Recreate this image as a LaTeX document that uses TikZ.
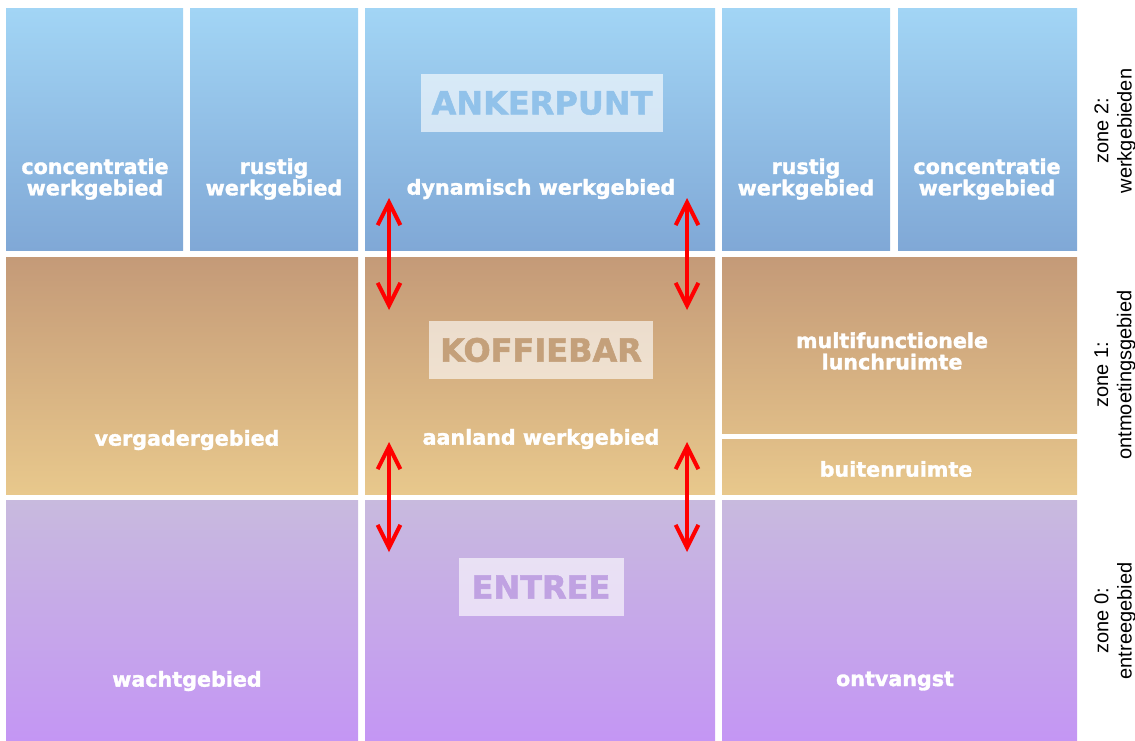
\documentclass[tikz,border=0pt]{standalone}
\usepackage{fontspec}
\setmainfont{Liberation Sans}
\newfontfamily\vlakfont{DejaVu Sans}[BoldFeatures={FakeBold=1.6}]
\usetikzlibrary{arrows.meta}
\definecolor{blauwboven}{RGB}{162,213,245}
\definecolor{blauwonder}{RGB}{128,168,214}
\definecolor{bruinboven}{RGB}{196,154,120}
\definecolor{bruinmidden}{RGB}{223,188,135}
\definecolor{bruinonder}{RGB}{232,200,140}
\definecolor{paarsboven}{RGB}{200,186,222}
\definecolor{paarsonder}{RGB}{196,150,244}
\definecolor{ankerkleur}{RGB}{145,194,234}
\definecolor{koffiekleur}{RGB}{196,160,122}
\definecolor{entreekleur}{RGB}{192,162,226}

\begin{document}
\begin{tikzpicture}[x=0.75pt,y=0.75pt,yscale=-1,xscale=1,
  vlak/.style={anchor=north west,inner sep=0pt,outer sep=0pt},
  blauw/.style={vlak,top color=blauwboven,bottom color=blauwonder},
  bruin/.style={vlak,top color=bruinboven,bottom color=bruinonder},
  paars/.style={vlak,top color=paarsboven,bottom color=paarsonder},
  tekst/.style={text=white,font=\vlakfont\bfseries\fontsize{15.5}{16}\selectfont,align=center,inner sep=0.75pt},
  kader/.style={fill=white,fill opacity=0.62,text opacity=1,font=\vlakfont\bfseries\fontsize{24}{24}\selectfont,minimum height=44pt,inner xsep=8pt},
  zone/.style={rotate=90,align=center,font=\fontsize{15}{17.5}\selectfont},
  pijl/.style={red,line width=3pt,{Straight Barb[length=17pt,width=17pt]}-{Straight Barb[length=17pt,width=17pt]}}]
\useasboundingbox (0,0) rectangle (1135,740);

% zone 2: werkgebieden
\node [blauw,minimum width=177*0.75pt,minimum height=242*0.75pt] (concA) at (6,8) {};
\node [blauw,minimum width=168*0.75pt,minimum height=242*0.75pt] (rustA) at (190,8) {};
\node [blauw,minimum width=350*0.75pt,minimum height=242*0.75pt] (dynamisch) at (365,8) {};
\node [blauw,minimum width=168*0.75pt,minimum height=242*0.75pt] (rustB) at (722,8) {};
\node [blauw,minimum width=179*0.75pt,minimum height=242*0.75pt] (concB) at (898,8) {};
% zone 1: ontmoetingsgebied
\node [bruin,minimum width=352*0.75pt,minimum height=237*0.75pt] (vergader) at (6,257) {};
\node [bruin,minimum width=350*0.75pt,minimum height=237*0.75pt] (koffie) at (365,257) {};
\node [vlak,top color=bruinboven,bottom color=bruinmidden,minimum width=355*0.75pt,minimum height=176*0.75pt] (lunch) at (722,257) {};
\node [vlak,top color=bruinmidden,bottom color=bruinonder,minimum width=355*0.75pt,minimum height=55*0.75pt] (buiten) at (722,439) {};
% zone 0: entreegebied
\node [paars,minimum width=352*0.75pt,minimum height=240*0.75pt] (wacht) at (6,500) {};
\node [paars,minimum width=350*0.75pt,minimum height=240*0.75pt] (entree) at (365,500) {};
\node [paars,minimum width=355*0.75pt,minimum height=240*0.75pt] (ontvangst) at (722,500) {};

% Label Boxes
\node [kader,text=ankerkleur] (ankerpunt) at (542,103) {ANKERPUNT};
\node [kader,text=koffiekleur] (koffiebar) at (541,350) {KOFFIEBAR};
\node [kader,text=entreekleur,minimum width=165*0.75pt] (entreelabel) at (541,587) {ENTREE};

% Text Nodes
\node [tekst] (tconcA) at (95,179) {concentratie\\werkgebied};
\node [tekst] (trustA) at (274,179) {rustig\\werkgebied};
\node [tekst] (tdynamisch) at (541,189) {dynamisch werkgebied};
\node [tekst] (trustB) at (806,179) {rustig\\werkgebied};
\node [tekst] (tconcB) at (987,179) {concentratie\\werkgebied};
\node [tekst] (tvergader) at (187,440) {vergadergebied};
\node [tekst] (taanland) at (541,439) {aanland werkgebied};
\node [tekst] (tlunch) at (892,351) {multifunctionele\\lunchruimte};
\node [tekst] (tbuiten) at (896,469) {buitenruimte};
\node [tekst] (twacht) at (187,681) {wachtgebied};
\node [tekst] (tontvangst) at (895,681) {ontvangst};

% zone labels
\node [zone] (zone2) at (1115,131) {zone 2:\\werkgebieden};
\node [zone] (zone1) at (1115,375) {zone 1:\\ontmoetingsgebied};
\node [zone] (zone0) at (1115,621) {zone 0:\\entreegebied};

% Arrows
\coordinate (pijlA1) at (389,198);
\coordinate (pijlA2) at (389,310);
\coordinate (pijlB1) at (687,198);
\coordinate (pijlB2) at (687,310);
\coordinate (pijlC1) at (389,442);
\coordinate (pijlC2) at (389,552);
\coordinate (pijlD1) at (687,442);
\coordinate (pijlD2) at (687,552);
\draw [pijl] (pijlA1) -- (pijlA2);
\draw [pijl] (pijlB1) -- (pijlB2);
\draw [pijl] (pijlC1) -- (pijlC2);
\draw [pijl] (pijlD1) -- (pijlD2);

\end{tikzpicture}
\end{document}
